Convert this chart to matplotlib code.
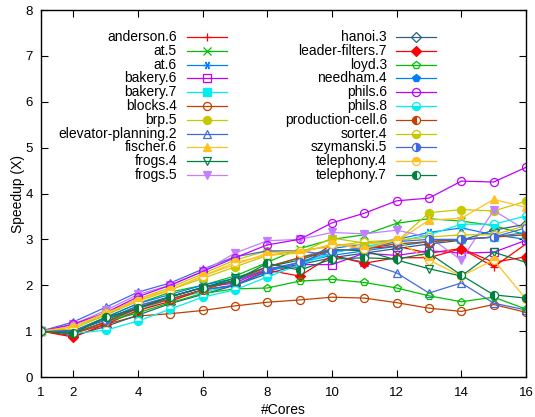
import matplotlib
matplotlib.use('Agg')
import matplotlib.pyplot as plt
from matplotlib.lines import Line2D

plt.rcParams['font.family'] = ['Liberation Sans', 'DejaVu Sans']

cores = list(range(1, 17))

names = ['anderson.6', 'at.5', 'at.6', 'bakery.6', 'bakery.7', 'blocks.4',
         'brp.5', 'elevator-planning.2', 'fischer.6', 'frogs.4', 'frogs.5',
         'hanoi.3', 'leader-filters.7', 'loyd.3', 'needham.4', 'phils.6',
         'phils.8', 'production-cell.6', 'sorter.4', 'szymanski.5',
         'telephony.4', 'telephony.7']

anderson_6 = [1, 0.95, 1.2, 1.5, 1.75, 1.95, 2.1, 2.35, 2.4, 2.9, 2.8, 2.85, 2.7, 2.8, 2.4, 2.9]
at_5 = [1, 1.0, 1.3, 1.6, 1.85, 2.0, 2.2, 2.5, 2.8, 3.0, 3.1, 3.35, 3.45, 3.4, 3.3, 3.1]
at_6 = [1, 1.0, 1.3, 1.6, 1.8, 2.0, 2.15, 2.4, 2.6, 2.8, 2.9, 3.0, 3.15, 3.25, 3.1, 3.0]
bakery_6 = [1, 1.0, 1.25, 1.55, 1.75, 1.95, 2.05, 2.35, 2.45, 2.45, 2.7, 2.65, 2.75, 2.7, 2.72, 2.98]
bakery_7 = [1, 0.95, 1.2, 1.45, 1.7, 1.85, 2.0, 2.3, 2.5, 2.7, 2.85, 2.9, 2.95, 3.0, 3.05, 3.1]
blocks_4 = [1, 0.95, 1.15, 1.33, 1.38, 1.45, 1.55, 1.63, 1.68, 1.74, 1.72, 1.62, 1.5, 1.43, 1.58, 1.41]
brp_5 = [1, 1.1, 1.35, 1.7, 1.95, 2.25, 2.55, 2.75, 2.7, 3.03, 2.92, 2.95, 3.58, 3.65, 3.62, 3.83]
elevator_planning_2 = [1, 1.2, 1.52, 1.85, 2.05, 2.35, 2.62, 2.75, 2.75, 2.65, 2.5, 2.27, 1.83, 2.05, 1.61, 1.46]
fischer_6 = [1, 1.1, 1.4, 1.7, 1.9, 2.2, 2.45, 2.7, 2.75, 2.85, 2.9, 2.95, 3.42, 3.46, 3.87, 3.7]
frogs_4 = [1, 1.0, 1.25, 1.5, 1.75, 1.95, 2.15, 2.4, 2.55, 2.78, 2.75, 2.55, 2.36, 2.2, 2.72, 2.5]
frogs_5 = [1, 1.15, 1.45, 1.8, 2.0, 2.3, 2.7, 2.97, 3.0, 3.15, 3.12, 3.2, 3.05, 2.55, 3.63, 3.2]
hanoi_3 = [1, 0.9, 1.1, 1.35, 1.6, 1.8, 2.0, 2.25, 2.45, 2.6, 2.7, 2.8, 2.9, 2.98, 3.2, 3.33]
leader_filters_7 = [1, 0.87, 1.15, 1.45, 1.65, 1.9, 2.0, 2.33, 2.2, 2.65, 2.48, 2.6, 2.6, 2.8, 2.5, 2.62]
loyd_3 = [1, 0.95, 1.2, 1.4, 1.62, 1.82, 1.92, 1.94, 2.09, 2.13, 2.06, 1.94, 1.77, 1.64, 1.74, 1.48]
needham_4 = [1, 0.95, 1.2, 1.5, 1.7, 1.9, 2.0, 2.3, 2.5, 2.65, 2.75, 2.85, 2.95, 3.0, 3.05, 3.15]
phils_6 = [1, 1.15, 1.4, 1.75, 2.0, 2.3, 2.6, 2.88, 3.0, 3.36, 3.57, 3.84, 3.9, 4.27, 4.25, 4.57]
phils_8 = [1, 0.95, 1.02, 1.22, 1.48, 1.74, 1.9, 2.18, 2.45, 2.7, 2.85, 2.95, 3.1, 3.33, 3.33, 3.51]
production_cell_6 = [1, 0.95, 1.2, 1.5, 1.7, 1.9, 2.1, 2.4, 2.6, 2.75, 2.8, 2.9, 2.95, 3.0, 3.05, 3.1]
sorter_4 = [1, 1.05, 1.35, 1.65, 1.9, 2.15, 2.4, 2.65, 2.75, 2.85, 2.95, 2.98, 3.05, 3.1, 3.1, 3.3]
szymanski_5 = [1, 1.0, 1.25, 1.55, 1.75, 1.95, 2.1, 2.35, 2.5, 2.75, 2.8, 2.95, 3.0, 3.0, 3.05, 3.25]
telephony_4 = [1, 1.1, 1.4, 1.65, 1.9, 2.2, 2.5, 2.65, 2.7, 2.9, 2.8, 2.98, 2.55, 2.2, 2.55, 1.7]
telephony_7 = [1, 0.95, 1.3, 1.5, 1.75, 1.95, 2.1, 2.48, 2.33, 2.57, 2.6, 2.57, 2.7, 2.22, 1.79, 1.72]

series = [anderson_6, at_5, at_6, bakery_6, bakery_7, blocks_4, brp_5,
          elevator_planning_2, fischer_6, frogs_4, frogs_5, hanoi_3,
          leader_filters_7, loyd_3, needham_4, phils_6, phils_8,
          production_cell_6, sorter_4, szymanski_5, telephony_4, telephony_7]

# gnuplot default colour cycle
palette = ['#ff0000', '#00c000', '#0080ff', '#c000ff', '#00eeee', '#c04000',
           '#c8c800', '#4169e1', '#ffc020', '#008040', '#c080ff', '#306080']

# (marker, fillstyle)
markers = [('+', 'full'), ('x', 'full'), ((6, 2, 90), 'full'), ('s', 'none'),
           ('s', 'full'), ('o', 'none'), ('o', 'full'), ('^', 'none'),
           ('^', 'full'), ('v', 'none'), ('v', 'full'), ('D', 'none'),
           ('D', 'full'), ('p', 'none'), ('p', 'full'), ('o', 'none'),
           ('o', 'bottom'), ('o', 'left'), ('o', 'bottom'), ('o', 'right'),
           ('o', 'top'), ('o', 'left')]


def style(i):
    m, fs = markers[i]
    c = palette[i % 12]
    kw = dict(color=c, lw=0.9, marker=m, markersize=5.8, markeredgewidth=0.9,
              fillstyle=fs, markeredgecolor=c)
    if fs == 'none':
        kw['markerfacecolor'] = 'none'
    elif fs != 'full':
        kw['markerfacecolor'] = c
        kw['markerfacecoloralt'] = 'white'
    if m == 'D':
        kw['markersize'] = 5.0
    return kw


fig = plt.figure(figsize=(5.35, 4.17), dpi=100)
ax = fig.add_axes([41 / 535, 1 - 377 / 417, 485 / 535, 367 / 417])

for i, ys in enumerate(series):
    ax.plot(cores, ys, **style(i))

ax.set_xlim(1, 16)
ax.set_ylim(0, 8)
ax.set_xticks([1, 2, 4, 6, 8, 10, 12, 14, 16])
ax.set_yticks(range(0, 9))
ax.tick_params(direction='in', length=5, width=0.8, top=True, right=True,
               labelsize=9.5)
ax.tick_params(axis='x', pad=7)
ax.tick_params(axis='y', pad=6)
for s in ax.spines.values():
    s.set_linewidth(1.0)
ax.set_xlabel('#Cores', fontsize=10, labelpad=3)
ax.set_ylabel('Speedup (X)', fontsize=10, labelpad=0)

# gnuplot-style key: right aligned labels, sample to the right
cols = [(177, 187, 227), (387, 396, 436)]
for i, name in enumerate(names):
    col = 0 if i < 11 else 1
    row = i if i < 11 else i - 11
    tx, l0, l1 = cols[col]
    y = 1 - (37 + row * 13.8) / 417
    fig.text(tx / 535, y, name, ha='right', va='center', fontsize=10)
    kw = style(i)
    fig.add_artist(Line2D([l0 / 535, (l0 + l1) / 2 / 535, l1 / 535], [y, y, y],
                          transform=fig.transFigure, markevery=[1], **kw))

fig.savefig('out.png', dpi=100)
